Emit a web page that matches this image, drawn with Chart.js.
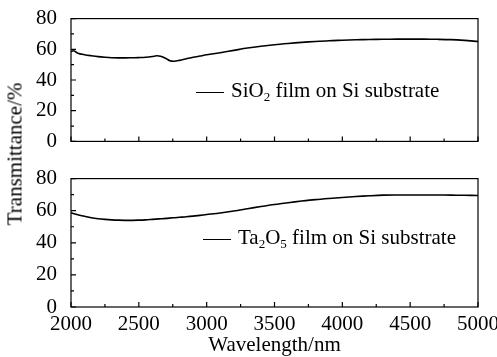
<!DOCTYPE html>
<html>
<head>
<meta charset="utf-8">
<script src="https://cdn.jsdelivr.net/npm/chart.js@4.4.0/dist/chart.umd.min.js"></script>
<style>
    body { margin: 0; background: #fff; }
    #wrap { position: relative; width: 497px; height: 357px; font-family: "Liberation Serif", "Times New Roman", serif; color: #000; }
    canvas { position: absolute; left: 0; }
    #topChart { top: 0; }
    #bottomChart { top: 160px; }
    .legend { position: absolute; font-size: 21px; white-space: nowrap; line-height: 1; }
    .legend .swatch { display: inline-block; width: 28px; border-top: 1.5px solid #000; vertical-align: middle; margin-right: 7px; }
    .legend sub { font-size: 13px; vertical-align: -4px; line-height: 0; }
    #yTitle { position: absolute; left: 15px; top: 154px; font-size: 21px; transform: translate(-50%, -50%) rotate(-90deg); white-space: nowrap; }
</style>
</head>
<body>
<div id="wrap">
    <canvas id="topChart" width="497" height="160"></canvas>
    <canvas id="bottomChart" width="497" height="197"></canvas>
    <div id="yTitle">Transmittance/%</div>
    <div class="legend" style="left:196px; top:80px;"><span class="swatch"></span>SiO<sub>2</sub> film on Si substrate</div>
    <div class="legend" style="left:203px; top:227px;"><span class="swatch"></span>Ta<sub>2</sub>O<sub>5</sub> film on Si substrate</div>
</div>
<script>
// Data
const sio2Wavelength = [2000, 2020, 2050, 2100, 2150, 2200, 2250, 2300, 2350, 2400, 2450, 2500, 2550, 2600, 2630, 2660, 2700, 2730, 2760, 2800, 2850, 2900, 2950, 3000, 3100, 3200, 3300, 3400, 3500, 3600, 3700, 3800, 3900, 4000, 4100, 4200, 4300, 4400, 4500, 4600, 4700, 4800, 4900, 5000];
const sio2Trans = [58.5, 59, 57.5, 56.5, 55.8, 55.2, 54.8, 54.5, 54.4, 54.4, 54.5, 54.6, 54.8, 55.3, 55.8, 55.5, 54, 52.5, 52.2, 52.8, 53.8, 54.8, 55.6, 56.4, 57.8, 59.3, 60.8, 62, 63, 63.8, 64.5, 65.1, 65.6, 65.9, 66.2, 66.4, 66.5, 66.6, 66.6, 66.6, 66.5, 66.3, 65.8, 65.1];

const ta2o5Wavelength = [2000, 2050, 2100, 2150, 2200, 2250, 2300, 2350, 2400, 2450, 2500, 2550, 2600, 2650, 2700, 2750, 2800, 2850, 2900, 2950, 3000, 3100, 3200, 3300, 3400, 3500, 3600, 3700, 3800, 3900, 4000, 4100, 4200, 4300, 4400, 4500, 4600, 4700, 4800, 4900, 5000];
const ta2o5Trans = [58.7, 57.5, 56.5, 55.6, 55, 54.6, 54.3, 54.1, 54, 54, 54.1, 54.3, 54.6, 54.9, 55.2, 55.6, 55.9, 56.2, 56.6, 57.1, 57.6, 58.6, 59.8, 61.2, 62.6, 63.9, 65, 66, 66.9, 67.6, 68.2, 68.8, 69.3, 69.7, 69.8, 69.8, 69.8, 69.8, 69.7, 69.6, 69.5];

const xTickValues = [2000, 2500, 3000, 3500, 4000, 4500, 5000];
const yTickValues = [0, 20, 40, 60, 80];

const serif = "'Liberation Serif', 'Times New Roman', serif";

// Frame around the plot area with inward major/minor ticks on left and bottom
const framePlugin = {
    id: 'frame',
    afterDraw(chart) {
        const { ctx, chartArea, scales } = chart;
        const { left, right, top, bottom } = chartArea;
        ctx.save();
        ctx.strokeStyle = '#000';
        ctx.lineWidth = 1.2;
        ctx.strokeRect(left, top, right - left, bottom - top);
        ctx.beginPath();
        for (let i = 0; i < yTickValues.length; i++) {
            const py = scales.y.getPixelForValue(yTickValues[i]);
            ctx.moveTo(left, py); ctx.lineTo(left + 5, py);
            if (i < yTickValues.length - 1) {
                const pm = scales.y.getPixelForValue((yTickValues[i] + yTickValues[i + 1]) / 2);
                ctx.moveTo(left, pm); ctx.lineTo(left + 3, pm);
            }
        }
        for (let i = 0; i < xTickValues.length; i++) {
            const px = scales.x.getPixelForValue(xTickValues[i]);
            ctx.moveTo(px, bottom); ctx.lineTo(px, bottom - 5);
            if (i < xTickValues.length - 1) {
                const pm = scales.x.getPixelForValue((xTickValues[i] + xTickValues[i + 1]) / 2);
                ctx.moveTo(pm, bottom); ctx.lineTo(pm, bottom - 3);
            }
        }
        ctx.stroke();
        ctx.restore();
    }
};

function makeChart(id, xs, ys, showX, topPad, xHeight) {
    const ctx = document.getElementById(id).getContext('2d');
    return new Chart(ctx, {
        type: 'line',
        data: {
            datasets: [{
                data: xs.map((x, i) => ({ x: x, y: ys[i] })),
                borderColor: '#000',
                borderWidth: 1.6,
                pointRadius: 0,
                tension: 0.3,
                fill: false
            }]
        },
        options: {
            responsive: false,
            animation: false,
            layout: { padding: { left: 0, right: 19, top: topPad, bottom: 0 } },
            plugins: { legend: { display: false }, tooltip: { enabled: false } },
            scales: {
                x: {
                    type: 'linear',
                    min: 2000,
                    max: 5000,
                    afterBuildTicks: s => { s.ticks = xTickValues.map(v => ({ value: v })); },
                    ticks: {
                        display: showX,
                        font: { family: serif, size: 21 },
                        color: '#000',
                        padding: -3,
                        maxRotation: 0,
                        autoSkip: false,
                        callback: v => String(v)
                    },
                    grid: { display: false },
                    border: { display: false },
                    title: { display: showX, text: 'Wavelength/nm', font: { family: serif, size: 21, lineHeight: 1.1 }, color: '#000', padding: { top: 0, bottom: 0 } },
                    afterFit: s => { s.height = xHeight; }
                },
                y: {
                    min: 0,
                    max: 80,
                    afterBuildTicks: s => { s.ticks = yTickValues.map(v => ({ value: v })); },
                    ticks: { font: { family: serif, size: 21 }, color: '#000', padding: 6 },
                    grid: { display: false },
                    border: { display: false },
                    afterFit: s => { s.width = 71; }
                }
            }
        },
        plugins: [framePlugin]
    });
}

makeChart('topChart', sio2Wavelength, sio2Trans, false, 11, 16);
makeChart('bottomChart', ta2o5Wavelength, ta2o5Trans, true, 14, 50);
</script>
</body>
</html>
